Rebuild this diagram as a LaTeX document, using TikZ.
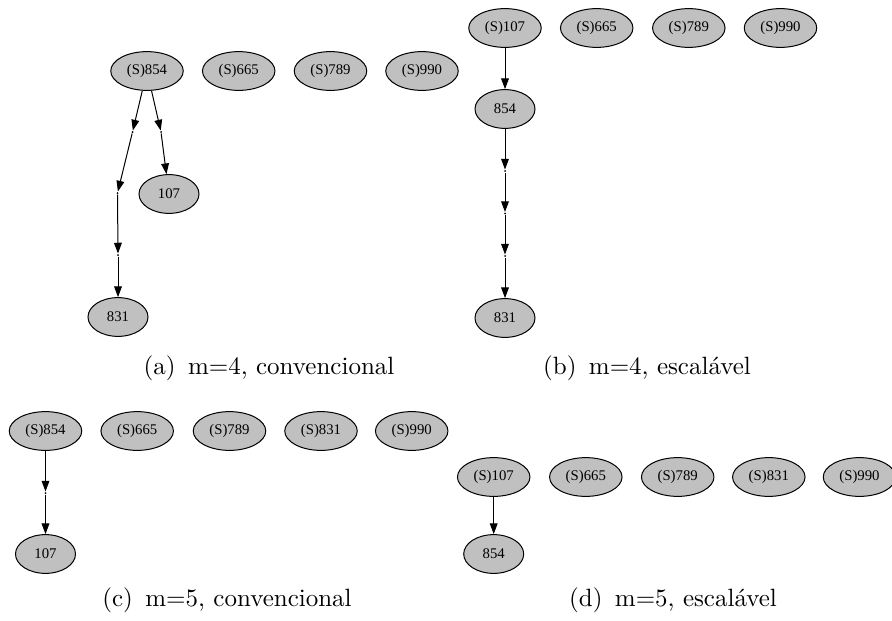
\documentclass[tikz,border=0pt]{standalone}
\usepackage{fontspec}
\newfontfamily\dotfont{Liberation Serif}
\usetikzlibrary{shapes.geometric, arrows.meta}
\definecolor{nodegray}{RGB}{192,192,192}

\begin{document}
\begin{tikzpicture}[x=0.4pt, y=-0.4pt,
  gnode/.style={ellipse, draw, fill=nodegray, line width=0.4pt,
    minimum width=29pt, minimum height=15.5pt, inner sep=0pt,
    font=\dotfont\fontsize{5.9}{6.8}\selectfont},
  leaf/.style={gnode, minimum width=24pt},
  dot/.style={circle, fill=black, inner sep=0pt, minimum size=0.8pt},
  link/.style={-{Triangle[length=4.3pt, width=3.1pt]}, line width=0.4pt},
  captxt/.style={font=\fontsize{10}{12}\selectfont, inner sep=0pt}]
\useasboundingbox (0,0) rectangle (892,620);

% (a) m=4, conventional
\node[gnode] (a854) at (147,71)   {(S)854};
\node[gnode] (a665) at (238.7,71) {(S)665};
\node[gnode] (a789) at (330.5,71) {(S)789};
\node[gnode] (a990) at (422,71)   {(S)990};
\node[dot] (pa1) at (132.5,132) {};
\node[dot] (pa2) at (117.5,193) {};
\node[dot] (pa3) at (118,255) {};
\node[leaf] (a831) at (118,317) {831};
\node[dot] (pa4) at (161,132) {};
\node[leaf] (a107) at (169,194) {107};
\draw[link] (a854) -- (pa1);
\draw[link] (pa1) -- (pa2);
\draw[link] (pa2) -- (pa3);
\draw[link] (pa3) -- (a831);
\draw[link] (a854) -- (pa4);
\draw[link] (pa4) -- (a107);
\node[captxt] (capa) at (269,368) {(a)\, m=4, convencional};

% (b) m=4, scalable
\node[gnode] (b107) at (505,28)   {(S)107};
\node[gnode] (b665) at (596.7,28) {(S)665};
\node[gnode] (b789) at (688.8,28) {(S)789};
\node[gnode] (b990) at (780.5,28) {(S)990};
\node[leaf] (b854) at (505,109) {854};
\node[dot] (pb1) at (505,171) {};
\node[dot] (pb2) at (505,213.5) {};
\node[dot] (pb3) at (505,256) {};
\node[leaf] (b831) at (505,318) {831};
\draw[link] (b107) -- (b854);
\draw[link] (b854) -- (pb1);
\draw[link] (pb1) -- (pb2);
\draw[link] (pb2) -- (pb3);
\draw[link] (pb3) -- (b831);
\node[captxt] (capb) at (647,368) {(b)\, m=4, escal\'avel};

% (c) m=5, conventional
\node[gnode] (c854) at (45.5,431)  {(S)854};
\node[gnode] (c665) at (137.2,431) {(S)665};
\node[gnode] (c789) at (229.5,431) {(S)789};
\node[gnode] (c831) at (321,431)   {(S)831};
\node[gnode] (c990) at (411.7,431) {(S)990};
\node[dot] (pc1) at (45.5,493) {};
\node[leaf] (c107) at (45.5,554) {107};
\draw[link] (c854) -- (pc1);
\draw[link] (pc1) -- (c107);
\node[captxt] (capc) at (227,600) {(c)\, m=5, convencional};

% (d) m=5, scalable
\node[gnode] (d107) at (493.7,477) {(S)107};
\node[gnode] (d665) at (585.8,477) {(S)665};
\node[gnode] (d789) at (677.7,477) {(S)789};
\node[gnode] (d831) at (768.8,477) {(S)831};
\node[gnode] (d990) at (859.5,477) {(S)990};
\node[leaf] (d854) at (493.7,554) {854};
\draw[link] (d107) -- (d854);
\node[captxt] (capd) at (673,600) {(d)\, m=5, escal\'avel};
\end{tikzpicture}
\end{document}
